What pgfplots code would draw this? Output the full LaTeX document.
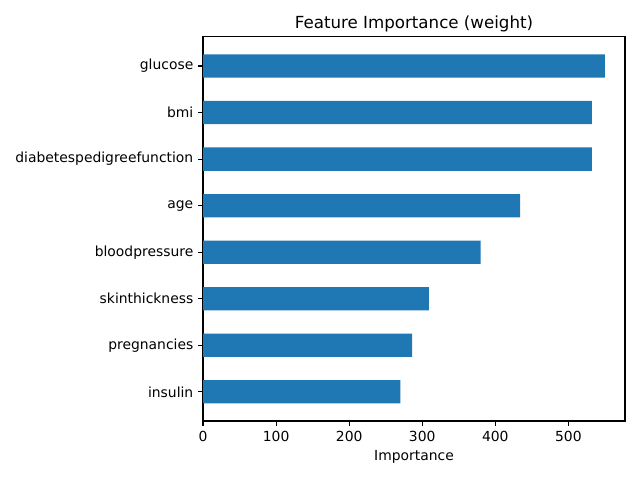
\documentclass[border=0pt]{standalone}
\usepackage{fontspec}
\setmainfont{DejaVu Sans}
\usepackage{pgfplots}
\pgfplotsset{compat=1.18}
\definecolor{barblue}{HTML}{1F77B4}

\begin{document}
\begin{tikzpicture}
\begin{axis}[
    scale only axis,
    width=303.8pt,
    height=276.5pt,
    xmin=0, xmax=577.5,
    ymin=-0.625, ymax=7.625,
    xtick={0,100,200,300,400,500},
    ytick={0,1,2,3,4,5,6,7},
    yticklabels={insulin,pregnancies,skinthickness,bloodpressure,age,diabetespedigreefunction,bmi,glucose},
    tick pos=left,
    tick align=outside,
    major tick length=3.5pt,
    tick style={black, line width=0.8pt},
    axis line style={line width=0.8pt},
    xlabel={Importance},
    title={Feature Importance (weight)},
    title style={font=\fontsize{12}{14}\selectfont, yshift=-6pt},
    tick label style={font=\fontsize{10}{12}\selectfont},
    label style={font=\fontsize{10}{12}\selectfont},
    /pgf/number format/assume math mode=true,
    xbar, bar width=16.74pt, bar shift=0pt,
]
% weights
\addplot[fill=barblue, draw=none] coordinates {
    (270,0) (286,1) (309,2) (380,3) (434,4) (532,5) (532,6) (550,7)
};
\end{axis}
\path (current axis.south west) ++(-146.2pt,-42.5pt) coordinate (bl);
\path (current axis.north east) ++(10.8pt,26.6pt) coordinate (tr);
\useasboundingbox (bl) rectangle (tr);
\end{tikzpicture}
\end{document}
